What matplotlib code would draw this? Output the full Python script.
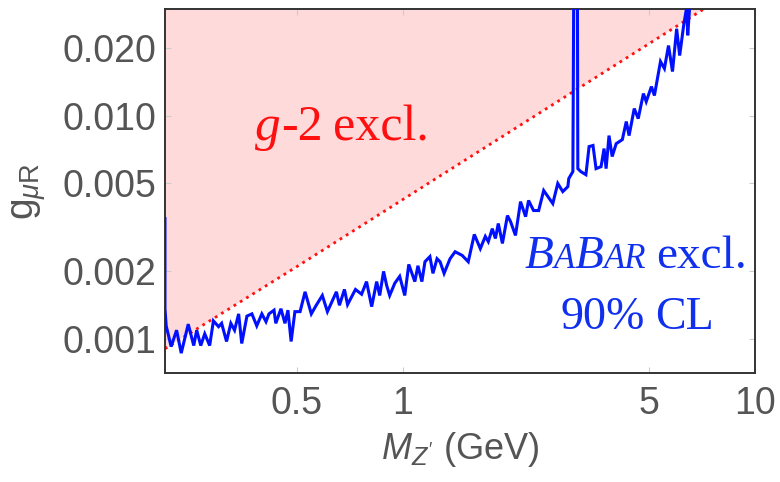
import matplotlib
matplotlib.use("Agg")
import matplotlib.pyplot as plt
from matplotlib.transforms import offset_copy

# ---------------- data ----------------
babar_mass = [0.2113, 0.2113, 0.213, 0.220, 0.228, 0.235, 0.246, 0.255, 0.260, 0.267,
              0.274, 0.283, 0.290, 0.300, 0.306, 0.316, 0.325, 0.333, 0.342, 0.349,
              0.361, 0.373, 0.385, 0.398, 0.409, 0.417, 0.431, 0.436, 0.451, 0.463,
              0.472, 0.482, 0.494, 0.511, 0.528, 0.550, 0.568, 0.591, 0.611, 0.648,
              0.661, 0.683, 0.697, 0.734, 0.764, 0.789, 0.816, 0.843, 0.860, 0.882,
              0.900, 0.918, 0.949, 0.980, 1.013, 1.040, 1.082, 1.104, 1.133, 1.156,
              1.194, 1.218, 1.251, 1.276, 1.310, 1.362, 1.408, 1.474, 1.534, 1.596,
              1.660, 1.715, 1.749, 1.795, 1.832, 1.867, 1.918, 1.982, 2.022, 2.089,
              2.159, 2.232, 2.275, 2.351, 2.431, 2.512, 2.666, 2.754, 2.846, 2.942,
              2.960, 3.040, 3.06, 3.13, 3.14, 3.20, 3.31, 3.38, 3.467, 3.537,
              3.655, 3.727, 3.777, 3.85, 3.93, 4.035, 4.20, 4.31, 4.39, 4.54,
              4.66, 4.82, 4.91, 5.08, 5.18, 5.39, 5.53, 5.68, 5.83, 5.99,
              6.11, 6.27, 6.40, 6.44, 6.56]
babar_g = [0.00345, 0.00136, 0.00114, 0.00092, 0.00109, 0.00086, 0.00116, 0.00093, 0.00109, 0.00093,
           0.00105, 0.00093, 0.00120, 0.00113, 0.00117, 0.00097, 0.00117, 0.00109, 0.00129, 0.00095,
           0.00126, 0.00129, 0.00114, 0.00129, 0.00119, 0.00129, 0.00134, 0.00117, 0.00136, 0.00117,
           0.00134, 0.00097, 0.00132, 0.00132, 0.00162, 0.00129, 0.00141, 0.00156, 0.00132, 0.00162,
           0.00141, 0.00166, 0.00142, 0.00166, 0.00158, 0.00180, 0.00139, 0.00180, 0.00156, 0.00200,
           0.00173, 0.00156, 0.00177, 0.00190, 0.00156, 0.00215, 0.00180, 0.00212, 0.00180, 0.00221,
           0.00233, 0.00196, 0.00228, 0.00221, 0.00196, 0.00228, 0.00245, 0.00236, 0.00221, 0.00293,
           0.00253, 0.00287, 0.00272, 0.00311, 0.00281, 0.00328, 0.00267, 0.00356, 0.00335, 0.00290,
           0.00411, 0.00352, 0.00416, 0.00375, 0.00375, 0.00461, 0.00403, 0.00496, 0.00456, 0.00480,
           0.00522, 0.00561, 0.05, 0.05, 0.00578, 0.00561, 0.00543, 0.00726, 0.00734, 0.00578,
           0.00590, 0.00711, 0.00578, 0.00813, 0.00655, 0.00748, 0.00780, 0.0094, 0.00813, 0.01075,
           0.00969, 0.01255, 0.01155, 0.01349, 0.0123, 0.01747, 0.01625, 0.0206, 0.01575, 0.0245,
           0.01858, 0.0253, 0.0308, 0.0229, 0.035]

gm2_mass = [0.2113, 0.5, 1.0, 2.0, 5.0, 10.0]
gm2_g = [0.00090, 0.0021, 0.0042, 0.0084, 0.021, 0.042]

x_ticks = [0.5, 1, 5, 10]
x_ticklabels = ["0.5", "1", "5", "10"]
y_ticks = [0.001, 0.002, 0.005, 0.010, 0.020]
y_ticklabels = ["0.001", "0.002", "0.005", "0.010", "0.020"]

# ---------------- style ----------------
plt.rcParams['font.family'] = ['Liberation Sans', 'DejaVu Sans']
plt.rcParams['mathtext.fontset'] = 'custom'
plt.rcParams['mathtext.rm'] = 'Liberation Sans'
plt.rcParams['mathtext.it'] = 'Liberation Sans:italic'

GRAY = '#555555'
PINK = '#ffdada'
RED = '#ff1010'
BLUE = '#0010ff'
TBLUE = '#1030ee'

fig = plt.figure(figsize=(7.8, 4.82), dpi=100)
ax = fig.add_axes([0.2115, 0.226, 0.7565, 0.755])

ax.set_xscale('log')
ax.set_yscale('log')
ax.set_xlim(0.2113, 10)
ax.set_ylim(0.0007, 0.03)

ax.fill_between(gm2_mass, gm2_g, 1.0, color=PINK, lw=0, zorder=1)
ax.plot(gm2_mass, gm2_g, color=RED, lw=2.0, ls=':', zorder=2)
ax.plot(babar_mass, babar_g, color=BLUE, lw=2.2, zorder=3, solid_joinstyle='miter')

ax.set_xticks(x_ticks)
ax.set_xticklabels(x_ticklabels)
ax.set_yticks(y_ticks)
ax.set_yticklabels(y_ticklabels)
ax.minorticks_off()
ax.tick_params(axis='both', which='major', direction='in', length=4, width=0.8,
               color='#cccccc', labelsize=27, labelcolor=GRAY, top=True, right=True)
ax.tick_params(axis='x', pad=9)
ax.tick_params(axis='y', pad=6)

for sp in ax.spines.values():
    sp.set_color('#333333')
    sp.set_linewidth(1.4)

ax.set_xlabel(r"$M_{Z'}$ (GeV)", fontsize=26, color=GRAY, labelpad=6)
ax.set_ylabel(r"g$_{\mu\mathrm{R}}$", fontsize=28, color=GRAY, labelpad=10)

# ---------------- annotations (rich text pieces) ----------------
renderer = fig.canvas.get_renderer()


def place_pieces(pieces, xc, yb, color):
    texts = []
    widths = []
    for s, size, style in pieces:
        if s is None:
            texts.append(None)
            widths.append(size)
            continue
        t = ax.text(xc, yb, s, transform=ax.transAxes, ha='left', va='baseline',
                    fontsize=size, style=style, color=color,
                    family=['Liberation Serif', 'DejaVu Serif'], zorder=5)
        texts.append(t)
        widths.append(t.get_window_extent(renderer).width)
    total = sum(widths)
    cur = -total / 2.0
    for t, w in zip(texts, widths):
        if t is not None:
            t.set_transform(offset_copy(ax.transAxes, fig=fig, x=cur, y=0, units='dots'))
        cur += w


place_pieces([("g", 37, 'italic'), ("-2", 36, 'normal'), (None, 11, None),
              ("excl.", 36, 'normal')], 0.30, 0.640, RED)
place_pieces([("B", 34, 'italic'), ("A", 25, 'italic'), ("B", 34, 'italic'),
              ("AR", 25, 'italic'), (None, 10, None), ("excl.", 34, 'normal')],
             0.798, 0.288, TBLUE)
place_pieces([("90%", 33, 'normal'), (None, 10, None), ("CL", 33, 'normal')],
             0.80, 0.121, TBLUE)

fig.savefig("out.png", dpi=100)
